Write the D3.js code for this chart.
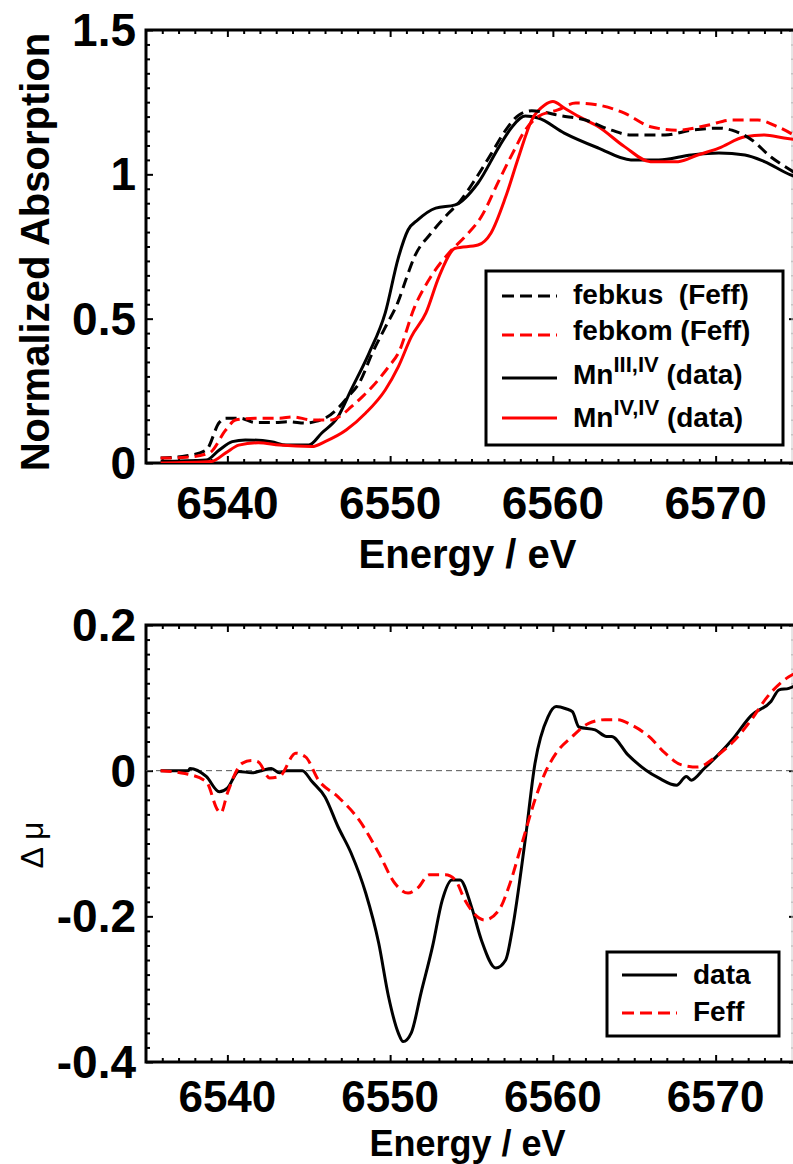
<!DOCTYPE html>
<html>
<head>
<meta charset="utf-8">
<script src="https://cdn.jsdelivr.net/npm/d3@7"></script>
<style>
  body { margin: 0; background: #fff; }
  text { font-family: "Liberation Sans", Arial, sans-serif; }
</style>
</head>
<body>
<div id="chart"></div>
<script>
// ---- data ----
const xTicks = [6540, 6550, 6560, 6570];
const topYTicks = [0, 0.5, 1, 1.5];
const botYTicks = [-0.4, -0.2, 0, 0.2];

// [energy (eV), normalized absorption]
const febkus = [[6535.9,0.017],[6537.5,0.025],[6538.7,0.045],[6539.5,0.14],[6539.9,0.155],[6540.8,0.155],[6541.7,0.14],[6542.8,0.14],[6543.8,0.143],[6544.8,0.138],[6545.5,0.145],[6546.0,0.155],[6546.8,0.19],[6547.5,0.235],[6548.1,0.277],[6548.9,0.38],[6549.7,0.47],[6550.5,0.56],[6551.0,0.64],[6551.5,0.715],[6552.5,0.795],[6553.6,0.866],[6554.2,0.9],[6555.2,0.98],[6556.2,1.07],[6557.1,1.153],[6557.9,1.205],[6558.7,1.22],[6559.5,1.215],[6560.3,1.205],[6562.0,1.188],[6563.6,1.153],[6564.8,1.136],[6566.9,1.136],[6568.5,1.153],[6570.2,1.16],[6571.0,1.153],[6572.2,1.12],[6573.4,1.06],[6574.6,1.015],[6575,1.0]];
const febkom = [[6535.9,0.017],[6537.5,0.02],[6538.9,0.035],[6539.9,0.114],[6540.5,0.149],[6541.7,0.155],[6543.2,0.155],[6544.0,0.16],[6545.2,0.149],[6546.4,0.149],[6547.0,0.165],[6547.6,0.194],[6548.3,0.23],[6548.9,0.264],[6549.9,0.333],[6550.5,0.38],[6551.5,0.54],[6552.5,0.645],[6553.6,0.727],[6554.6,0.784],[6555.6,0.853],[6556.7,0.98],[6557.5,1.07],[6558.3,1.153],[6559.1,1.2],[6560.3,1.223],[6561.4,1.247],[6562.8,1.24],[6564.4,1.212],[6566.0,1.165],[6567.7,1.153],[6569.5,1.17],[6571.0,1.188],[6572.6,1.188],[6573.8,1.165],[6575,1.13]];
const mn34 = [[6535.9,0.005],[6538.7,0.01],[6539.5,0.045],[6540.3,0.074],[6541.1,0.08],[6542.7,0.074],[6543.6,0.062],[6545.0,0.062],[6545.8,0.104],[6546.8,0.16],[6547.6,0.253],[6548.7,0.38],[6549.7,0.52],[6550.5,0.71],[6551.1,0.807],[6551.7,0.842],[6552.8,0.883],[6554.0,0.894],[6555.4,0.97],[6556.7,1.096],[6557.5,1.165],[6558.3,1.202],[6559.1,1.195],[6560.7,1.143],[6562.8,1.091],[6564.8,1.05],[6566.5,1.05],[6568.5,1.067],[6570.2,1.074],[6571.8,1.067],[6573.0,1.044],[6574.6,0.998],[6575,0.99]];
const mn44 = [[6535.9,0.0],[6539.0,0.005],[6539.9,0.035],[6540.7,0.062],[6541.9,0.07],[6543.2,0.062],[6545.2,0.057],[6546.0,0.074],[6547.3,0.114],[6548.5,0.173],[6549.7,0.253],[6550.5,0.333],[6551.3,0.437],[6552.2,0.52],[6553.0,0.645],[6554.0,0.744],[6555.4,0.755],[6556.2,0.797],[6557.1,0.922],[6557.9,1.061],[6558.7,1.188],[6559.5,1.24],[6560.0,1.252],[6560.7,1.23],[6561.6,1.2],[6562.8,1.165],[6564.4,1.096],[6566.0,1.044],[6567.7,1.044],[6568.9,1.067],[6570.2,1.091],[6571.8,1.13],[6573.0,1.136],[6574.2,1.126],[6575,1.12]];

// [energy (eV), delta mu]
const diffData = [[6535.9,0],[6537.6,0],[6537.7,0.003],[6538.7,-0.008],[6539.5,-0.029],[6540.0,-0.024],[6540.7,-0.001],[6541.5,-0.003],[6542.1,0.0],[6542.7,0.003],[6543.2,-0.003],[6543.6,0],[6544.6,0],[6545.2,-0.015],[6546.0,-0.036],[6546.8,-0.077],[6547.6,-0.113],[6548.5,-0.168],[6549.3,-0.237],[6549.9,-0.31],[6550.5,-0.36],[6550.8,-0.372],[6551.3,-0.36],[6551.9,-0.305],[6552.6,-0.242],[6553.2,-0.178],[6553.8,-0.15],[6554.3,-0.15],[6555.0,-0.187],[6555.6,-0.232],[6556.5,-0.271],[6557.1,-0.26],[6557.5,-0.219],[6558.3,-0.095],[6558.9,0.01],[6559.7,0.074],[6560.2,0.088],[6560.8,0.085],[6561.2,0.081],[6561.6,0.06],[6562.6,0.056],[6563.3,0.047],[6563.6,0.047],[6564.6,0.022],[6565.7,0.001],[6566.5,-0.01],[6567.6,-0.02],[6568.2,-0.008],[6568.5,-0.013],[6569.3,0.003],[6571.0,0.042],[6572.2,0.076],[6573.4,0.095],[6573.9,0.111],[6574.5,0.113],[6575,0.118]];
const diffFeff = [[6535.9,0],[6537.4,-0.004],[6538.7,-0.015],[6539.4,-0.054],[6539.6,-0.058],[6540.0,-0.031],[6540.9,0.01],[6541.5,0.014],[6541.9,0.012],[6542.6,-0.01],[6543.2,-0.008],[6544.2,0.024],[6544.8,0.019],[6545.6,-0.013],[6546.8,-0.036],[6548.1,-0.068],[6549.3,-0.113],[6550.3,-0.155],[6551.1,-0.168],[6551.7,-0.161],[6552.4,-0.143],[6553.4,-0.143],[6554.0,-0.15],[6554.6,-0.178],[6555.8,-0.205],[6556.7,-0.191],[6557.3,-0.159],[6558.1,-0.1],[6558.9,-0.04],[6559.5,-0.004],[6560.2,0.024],[6561.2,0.047],[6562.2,0.065],[6563.2,0.07],[6564.0,0.07],[6564.8,0.063],[6565.9,0.047],[6566.9,0.024],[6567.9,0.008],[6568.9,0.005],[6570.0,0.019],[6571.0,0.038],[6572.2,0.07],[6573.2,0.102],[6574.5,0.129],[6575,0.135]];

// ---- layout ----
const W = 793, H = 1164;
const svg = d3.select("#chart").append("svg")
    .attr("width", W)
    .attr("height", H);

const x = d3.scaleLinear().domain([6535, 6575]).range([146, 797]);
const yTop = d3.scaleLinear().domain([0, 1.5]).range([463, 30]);
const yBot = d3.scaleLinear().domain([-0.4, 0.2]).range([1062, 625]);

const dash = "11,6";

// lab: {size, offset} for x tick labels, title: {size, y}
function drawPanel(y, yTicks, yMinorStep, id, lab, title) {
    const [y0, y1] = y.range(); // bottom, top
    const left = x.range()[0], right = x.range()[1];

    svg.append("clipPath").attr("id", id)
        .append("rect")
        .attr("x", left).attr("y", y1)
        .attr("width", right - left).attr("height", y0 - y1);

    const xMinor = d3.range(6536, 6575, 1).filter(d => d % 10 !== 0);
    const [d0, d1] = y.domain();
    const yMinor = d3.range(Math.round((d1 - d0) / yMinorStep) + 1)
        .map(i => +(d0 + i * yMinorStep).toFixed(3))
        .filter(v => !yTicks.some(t => Math.abs(t - v) < 1e-6));

    const tickStyle = g => {
        g.select(".domain").remove();
        g.selectAll("line").attr("stroke", "#000").attr("stroke-width", 2);
    };

    // inward ticks on all four sides
    svg.append("g").attr("transform", `translate(0,${y0})`)
        .call(d3.axisBottom(x).tickValues(xTicks).tickSize(-7).tickFormat("")).call(tickStyle);
    svg.append("g").attr("transform", `translate(0,${y0})`)
        .call(d3.axisBottom(x).tickValues(xMinor).tickSize(-4).tickFormat("")).call(tickStyle);
    svg.append("g").attr("transform", `translate(0,${y1})`)
        .call(d3.axisTop(x).tickValues(xTicks).tickSize(-7).tickFormat("")).call(tickStyle);
    svg.append("g").attr("transform", `translate(0,${y1})`)
        .call(d3.axisTop(x).tickValues(xMinor).tickSize(-4).tickFormat("")).call(tickStyle);
    svg.append("g").attr("transform", `translate(${left},0)`)
        .call(d3.axisLeft(y).tickValues(yTicks).tickSize(-7).tickFormat("")).call(tickStyle);
    svg.append("g").attr("transform", `translate(${left},0)`)
        .call(d3.axisLeft(y).tickValues(yMinor).tickSize(-4).tickFormat("")).call(tickStyle);
    svg.append("g").attr("transform", `translate(${right},0)`)
        .call(d3.axisRight(y).tickValues(yTicks).tickSize(-8).tickFormat("")).call(tickStyle);
    svg.append("g").attr("transform", `translate(${right},0)`)
        .call(d3.axisRight(y).tickValues(yMinor).tickSize(-6).tickFormat("")).call(tickStyle)
        .selectAll("line").attr("stroke", "#bbb").attr("stroke-width", 1.5);

    // faint right edge
    svg.append("line")
        .attr("x1", 792).attr("x2", 792).attr("y1", y1).attr("y2", y0)
        .attr("stroke", "#ccc").attr("stroke-width", 1);

    // frame
    svg.append("rect")
        .attr("x", left).attr("y", y1)
        .attr("width", right - left).attr("height", y0 - y1)
        .attr("fill", "none").attr("stroke", "#000").attr("stroke-width", 3);

    // tick labels
    svg.append("g").selectAll("text").data(xTicks).join("text")
        .attr("x", d => x(d)).attr("y", y0 + lab.offset)
        .attr("text-anchor", "middle")
        .attr("font-size", lab.size).attr("font-weight", "bold")
        .text(d => d);
    svg.append("g").selectAll("text").data(yTicks).join("text")
        .attr("x", left - 10).attr("y", d => y(d) + 16)
        .attr("text-anchor", "end")
        .attr("font-size", 46).attr("font-weight", "bold")
        .text(d => d);

    // x title
    svg.append("text")
        .attr("x", (left + 793) / 2 - 2).attr("y", title.y)
        .attr("text-anchor", "middle")
        .attr("font-size", title.size).attr("font-weight", "bold")
        .text("Energy / eV");

    return svg.append("g").attr("clip-path", `url(#${id})`);
}

function curve(g, y, data, color, dashed) {
    g.append("path")
        .datum(data)
        .attr("fill", "none")
        .attr("stroke", color)
        .attr("stroke-width", 3)
        .attr("stroke-dasharray", dashed ? dash : null)
        .attr("stroke-linejoin", "round")
        .attr("d", d3.line().x(d => x(d[0])).y(d => y(d[1])).curve(d3.curveMonotoneX));
}

// ---- top panel ----
const gTop = drawPanel(yTop, topYTicks, 0.05, "clipTop", {size: 46, offset: 56}, {size: 40, y: 568});
curve(gTop, yTop, mn34, "#000", false);
curve(gTop, yTop, mn44, "#f00", false);
curve(gTop, yTop, febkus, "#000", true);
curve(gTop, yTop, febkom, "#f00", true);

svg.append("text")
    .attr("transform", "translate(49,252) rotate(-90)")
    .attr("text-anchor", "middle")
    .attr("font-size", 40).attr("font-weight", "bold")
    .text("Normalized Absorption");

// top legend
const legTop = svg.append("g");
legTop.append("rect")
    .attr("x", 486).attr("y", 271).attr("width", 297).attr("height", 174)
    .attr("fill", "#fff").attr("stroke", "#000").attr("stroke-width", 3);
const topLegend = [
    {color: "#000", dashed: true, lineY: 296, textY: 304},
    {color: "#f00", dashed: true, lineY: 335, textY: 340},
    {color: "#000", dashed: false, lineY: 378, textY: 384},
    {color: "#f00", dashed: false, lineY: 418, textY: 427}
];
topLegend.forEach(d => {
    legTop.append("line")
        .attr("x1", 502).attr("x2", 557).attr("y1", d.lineY).attr("y2", d.lineY)
        .attr("stroke", d.color).attr("stroke-width", 3)
        .attr("stroke-dasharray", d.dashed ? "12,6" : null);
});
const legFont = 28;
legTop.append("text").attr("x", 573).attr("y", topLegend[0].textY)
    .attr("font-size", legFont).attr("font-weight", "bold").style("white-space", "pre")
    .text("febkus  (Feff)");
legTop.append("text").attr("x", 573).attr("y", topLegend[1].textY)
    .attr("font-size", legFont).attr("font-weight", "bold").style("white-space", "pre")
    .text("febkom (Feff)");
[["III,IV", 2], ["IV,IV", 3]].forEach(([sup, i]) => {
    const t = legTop.append("text").attr("x", 573).attr("y", topLegend[i].textY)
        .attr("font-size", legFont).attr("font-weight", "bold").style("white-space", "pre");
    t.append("tspan").text("Mn");
    t.append("tspan").attr("dy", -12).attr("font-size", 22).text(sup);
    t.append("tspan").attr("dy", 12).text(" (data)");
});

// ---- bottom panel ----
const gBot = drawPanel(yBot, botYTicks, 0.02, "clipBot", {size: 44, offset: 50}, {size: 36, y: 1156});
gBot.append("line")
    .attr("x1", x.range()[0]).attr("x2", x.range()[1])
    .attr("y1", yBot(0)).attr("y2", yBot(0))
    .attr("stroke", "#555").attr("stroke-width", 1)
    .attr("stroke-dasharray", "6,4");
curve(gBot, yBot, diffData, "#000", false);
curve(gBot, yBot, diffFeff, "#f00", true);

svg.append("text")
    .attr("transform", "translate(43,845) rotate(-90)")
    .attr("text-anchor", "middle")
    .attr("font-size", 32)
    .attr("font-family", "DejaVu Sans, sans-serif")
    .style("white-space", "pre")
    .text("Δ μ");

// bottom legend
const legBot = svg.append("g");
legBot.append("rect")
    .attr("x", 607).attr("y", 952).attr("width", 172).attr("height", 84)
    .attr("fill", "#fff").attr("stroke", "#000").attr("stroke-width", 3);
const botLegend = [
    {label: "data", color: "#000", dashed: false, lineY: 975, textY: 984},
    {label: "Feff", color: "#f00", dashed: true, lineY: 1013, textY: 1021}
];
botLegend.forEach(d => {
    legBot.append("line")
        .attr("x1", 622).attr("x2", 677).attr("y1", d.lineY).attr("y2", d.lineY)
        .attr("stroke", d.color).attr("stroke-width", 3)
        .attr("stroke-dasharray", d.dashed ? "12,6" : null);
    legBot.append("text")
        .attr("x", 693).attr("y", d.textY)
        .attr("font-size", legFont).attr("font-weight", "bold")
        .text(d.label);
});
</script>
</body>
</html>
